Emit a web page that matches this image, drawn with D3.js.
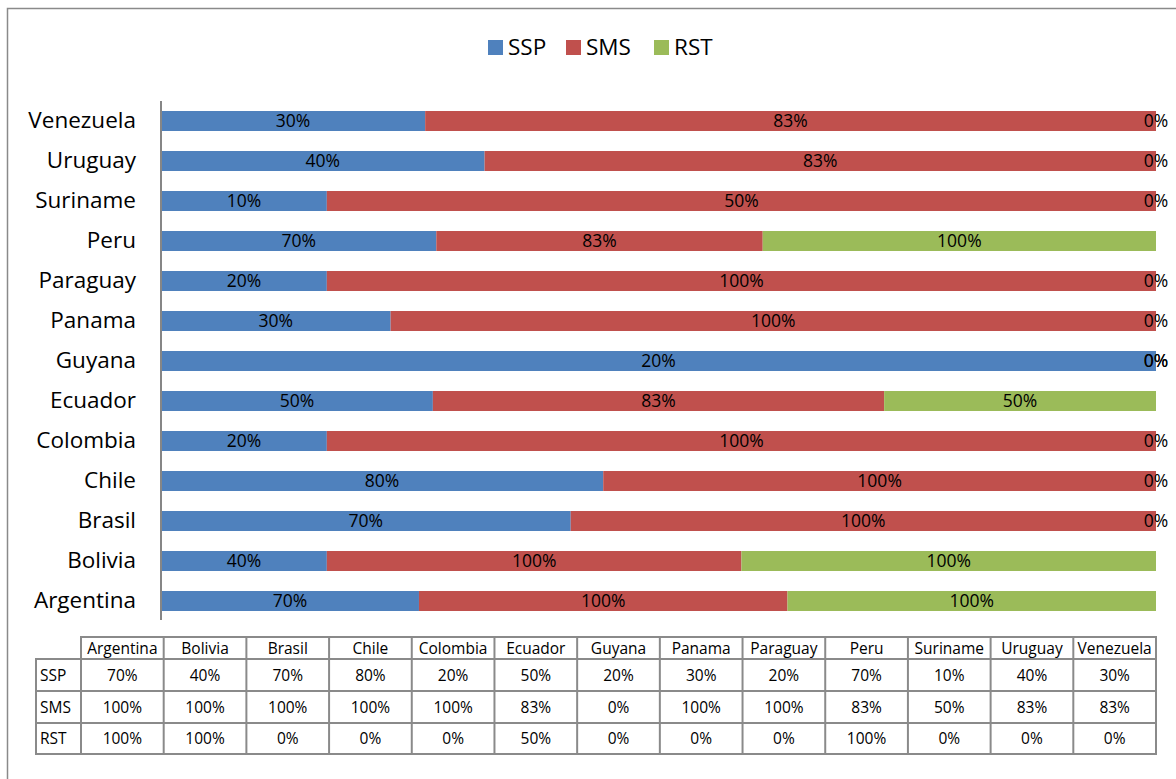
<!DOCTYPE html>
<html>
<head>
<meta charset="utf-8">
<script src="https://cdn.jsdelivr.net/npm/d3@7"></script>
<style>
  body { margin: 0; background: #fff; }
  svg text { font-family: "Open Sans", Lato, sans-serif; fill: #000; }
</style>
</head>
<body>
<div id="chart"></div>
<script>
// data
var countries = ["Argentina", "Bolivia", "Brasil", "Chile", "Colombia", "Ecuador", "Guyana",
                 "Panama", "Paraguay", "Peru", "Suriname", "Uruguay", "Venezuela"];
var ssp = [70, 40, 70, 80, 20, 50, 20, 30, 20, 70, 10, 40, 30];
var sms = [100, 100, 100, 100, 100, 83, 0, 100, 100, 83, 50, 83, 83];
var rst = [100, 100, 0, 0, 0, 50, 0, 0, 0, 100, 0, 0, 0];
var seriesNames = ["SSP", "SMS", "RST"];
var colors = ["#4F81BD", "#C0504D", "#9BBB59"];

var width = 1176, height = 779;

var svg = d3.select("#chart").append("svg")
    .attr("width", width)
    .attr("height", height);

// outer frame
svg.append("rect")
    .attr("x", 7.5).attr("y", 8.5)
    .attr("width", 1180).attr("height", 800)
    .attr("fill", "none")
    .attr("stroke", "#8a8a8a")
    .attr("stroke-width", 1.5);

var rows = countries.map(function(c, i) {
  return {country: c, SSP: ssp[i], SMS: sms[i], RST: rst[i]};
});

var stack = d3.stack().keys(seriesNames).offset(d3.stackOffsetExpand);
var layers = stack(rows);

var x = d3.scaleLinear().domain([0, 1]).range([161, 1156]);
var y = d3.scaleBand()
    .domain(countries.slice().reverse())
    .range([101, 621])
    .paddingInner(0.5)
    .paddingOuter(0.25);

// bars
var layer = svg.selectAll(".layer")
    .data(layers)
  .enter().append("g")
    .attr("class", "layer")
    .attr("fill", function(d, i) { return colors[i]; });

layer.selectAll("rect")
    .data(function(d) { return d; })
  .enter().append("rect")
    .attr("x", function(d) { return x(d[0]); })
    .attr("y", function(d) { return y(d.data.country); })
    .attr("width", function(d) { return x(d[1]) - x(d[0]); })
    .attr("height", y.bandwidth());

// value labels
layers.forEach(function(l) {
  svg.append("g").selectAll("text")
      .data(l)
    .enter().append("text")
      .attr("x", function(d) { return (x(d[0]) + x(d[1])) / 2; })
      .attr("y", function(d) { return y(d.data.country) + y.bandwidth() / 2; })
      .attr("dy", "0.36em")
      .attr("text-anchor", "middle")
      .style("font-size", "17.5px")
      .text(function(d) { return d.data[l.key] + "%"; });
});

// y axis
var yAxis = svg.append("g")
    .attr("transform", "translate(161,0)")
    .call(d3.axisLeft(y).tickSize(0).tickPadding(25));
yAxis.select(".domain").attr("stroke", "#868686").attr("stroke-width", 2)
    .attr("d", "M0,101V620");
yAxis.selectAll("text")
    .style("font-size", "22.5px")
    .style("font-family", "'Open Sans', Lato, sans-serif");

// legend
var legendX = [488, 566, 654];
var legend = svg.append("g");
seriesNames.forEach(function(name, i) {
  legend.append("rect")
      .attr("x", legendX[i]).attr("y", 40)
      .attr("width", 15).attr("height", 15)
      .attr("fill", colors[i]);
  legend.append("text")
      .attr("x", legendX[i] + 20).attr("y", 47)
      .attr("dy", "0.36em")
      .style("font-size", "22.5px")
      .text(name);
});

// data table
var tblLeft = 36, colStart = 81, colEnd = 1156;
var colW = (colEnd - colStart) / countries.length;
var rowY = [637, 659, 691, 723, 754];
var seriesVals = [ssp, sms, rst];
var border = "#8a8a8a";
var tbl = svg.append("g");

// horizontal lines
rowY.forEach(function(yy, i) {
  tbl.append("line")
      .attr("x1", i === 0 ? colStart : tblLeft).attr("x2", colEnd)
      .attr("y1", yy).attr("y2", yy)
      .attr("stroke", border).attr("stroke-width", 2);
});
// vertical lines
tbl.append("line")
    .attr("x1", tblLeft).attr("x2", tblLeft)
    .attr("y1", rowY[1] - 1).attr("y2", rowY[4] + 1)
    .attr("stroke", border).attr("stroke-width", 2);
d3.range(countries.length + 1).forEach(function(i) {
  var xx = colStart + i * colW;
  tbl.append("line")
      .attr("x1", xx).attr("x2", xx)
      .attr("y1", rowY[0] - 1).attr("y2", rowY[4] + 1)
      .attr("stroke", border).attr("stroke-width", 2);
});

// header text
countries.forEach(function(c, i) {
  tbl.append("text")
      .attr("x", colStart + (i + 0.5) * colW)
      .attr("y", (rowY[0] + rowY[1]) / 2)
      .attr("dy", "0.36em")
      .attr("text-anchor", "middle")
      .style("font-size", "15.5px")
      .text(c);
});
// rows
seriesNames.forEach(function(name, r) {
  var cy = (rowY[r + 1] + rowY[r + 2]) / 2;
  tbl.append("text")
      .attr("x", tblLeft + 4)
      .attr("y", cy)
      .attr("dy", "0.36em")
      .style("font-size", "15.5px")
      .text(name);
  seriesVals[r].forEach(function(v, i) {
    tbl.append("text")
        .attr("x", colStart + (i + 0.5) * colW)
        .attr("y", cy)
        .attr("dy", "0.36em")
        .attr("text-anchor", "middle")
        .style("font-size", "15.5px")
        .text(v + "%");
  });
});
</script>
</body>
</html>
